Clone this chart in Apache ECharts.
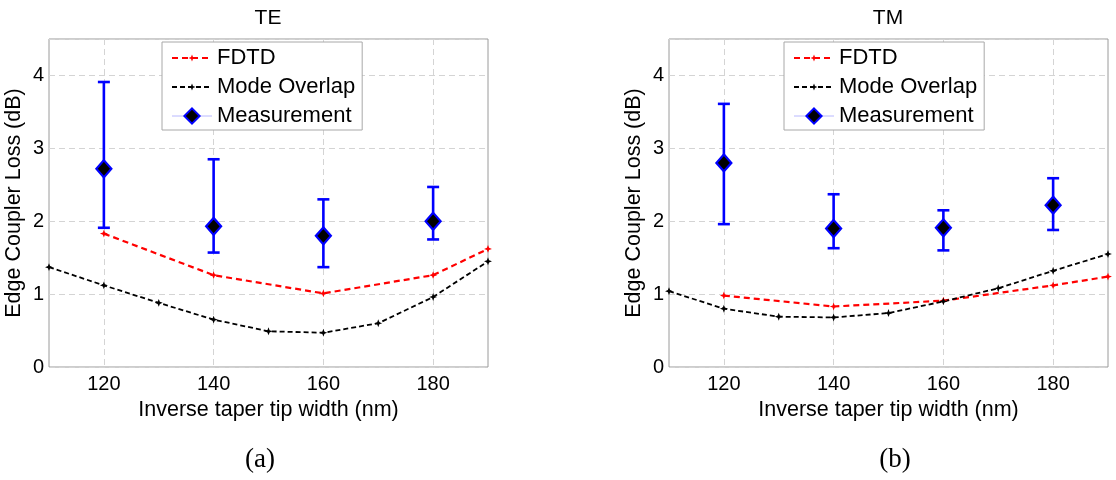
<!DOCTYPE html>
<html>
<head>
<meta charset="utf-8">
<script src="https://cdn.jsdelivr.net/npm/echarts@6/dist/echarts.min.js"></script>
<style>
html,body{margin:0;padding:0;background:#fff;}
#chart{width:1116px;height:480px;}
</style>
</head>
<body>
<div id="chart"></div>
<script>
// ---- data ----
var fdtdX = [120, 140, 160, 180, 190];
var teFdtd = [1.83, 1.26, 1.01, 1.26, 1.62];
var tmFdtd = [0.98, 0.83, 0.91, 1.12, 1.24];

var overlapX = [110, 120, 130, 140, 150, 160, 170, 180, 190];
var teOverlap = [1.37, 1.12, 0.88, 0.65, 0.49, 0.47, 0.60, 0.96, 1.45];
var tmOverlap = [1.04, 0.80, 0.69, 0.68, 0.74, 0.90, 1.08, 1.32, 1.55];

var measX = [120, 140, 160, 180];
var teMeas = [2.72, 1.93, 1.80, 2.00];
var teLow = [1.91, 1.57, 1.37, 1.75];
var teHigh = [3.91, 2.85, 2.30, 2.47];
var tmMeas = [2.80, 1.90, 1.91, 2.22];
var tmLow = [1.96, 1.63, 1.60, 1.88];
var tmHigh = [3.61, 2.37, 2.15, 2.59];

var panelTitles = ['TE', 'TM'];
var panelLetters = ['(a)', '(b)'];
var xName = 'Inverse taper tip width (nm)';
var yName = 'Edge Coupler Loss (dB)';
var legendNames = ['FDTD', 'Mode Overlap', 'Measurement'];

// ---- helpers ----
function zip(xs, ys) { return xs.map(function (x, i) { return [x, ys[i]]; }); }
function zip3(xs, a, b) { return xs.map(function (x, i) { return [x, a[i], b[i]]; }); }

var FONT = 'Liberation Sans, Arial, sans-serif';
var gridLeft = [49, 669];
// small asterisk-like star, padded with empty corner points so it stays small in the legend icon
var starPath = 'path://M-14,-14 L-14,-14 Z M14,14 L14,14 Z M0,-6.5 L1.8,-1.8 L6.5,0 L1.8,1.8 L0,6.5 L-1.8,1.8 L-6.5,0 L-1.8,-1.8 Z';

function xAxisFor(i) {
  return {
    type: 'value', gridIndex: i, min: 110, max: 190, interval: 10,
    name: xName, nameLocation: 'middle', nameGap: 31,
    nameTextStyle: { fontFamily: FONT, fontSize: 21.5, color: '#000' },
    axisLine: { show: false }, axisTick: { show: false },
    axisLabel: {
      fontFamily: FONT, fontSize: 20, color: '#000', margin: 7,
      formatter: function (v) { return v % 20 === 0 ? String(v) : ''; }
    },
    splitLine: { show: true, lineStyle: { color: ['rgba(0,0,0,0)', '#d4d4d4'], type: [6, 4], width: 1 } }
  };
}
function yAxisFor(i) {
  return {
    type: 'value', gridIndex: i, min: 0, max: 4.5, interval: 1,
    name: yName, nameLocation: 'middle', nameGap: 24,
    nameTextStyle: { fontFamily: FONT, fontSize: 21.5, color: '#000' },
    axisLine: { show: false }, axisTick: { show: false },
    axisLabel: {
      fontFamily: FONT, fontSize: 20, color: '#000', margin: 5,
      formatter: function (v) { return Number.isInteger(v) ? String(v) : ''; }
    },
    splitLine: { show: true, lineStyle: { color: '#d4d4d4', type: [6, 4], width: 1 } }
  };
}

function errorBarSeries(i, data) {
  return {
    type: 'custom', xAxisIndex: i, yAxisIndex: i, z: 3, silent: true,
    data: data,
    encode: { x: 0, y: [1, 2] },
    renderItem: function (params, api) {
      var x = api.value(0);
      var lo = api.coord([x, api.value(1)]);
      var hi = api.coord([x, api.value(2)]);
      var hw = 6;
      var st = { stroke: '#0000ff', lineWidth: 2.6 };
      return {
        type: 'group',
        children: [
          { type: 'line', shape: { x1: lo[0], y1: lo[1], x2: hi[0], y2: hi[1] }, style: st },
          { type: 'line', shape: { x1: lo[0] - hw, y1: lo[1], x2: lo[0] + hw, y2: lo[1] }, style: st },
          { type: 'line', shape: { x1: hi[0] - hw, y1: hi[1], x2: hi[0] + hw, y2: hi[1] }, style: st }
        ]
      };
    }
  };
}

function panelSeries(i, fdtd, overlap, meas, low, high) {
  return [
    {
      name: 'FDTD', type: 'line', xAxisIndex: i, yAxisIndex: i, z: 4,
      data: zip(fdtdX, fdtd), symbol: starPath, symbolSize: 17, showAllSymbol: true,
      lineStyle: { color: '#ff0000', width: 2.2, type: [6, 4] },
      itemStyle: { color: '#ff0000', borderWidth: 0 }, animation: false
    },
    {
      name: 'Mode Overlap', type: 'line', xAxisIndex: i, yAxisIndex: i, z: 4,
      data: zip(overlapX, overlap), symbol: starPath, symbolSize: 17, showAllSymbol: true,
      lineStyle: { color: '#000000', width: 1.8, type: [5, 3] },
      itemStyle: { color: '#000000', borderWidth: 0 }, animation: false
    },
    errorBarSeries(i, zip3(measX, low, high)),
    {
      name: 'Measurement', type: 'line', xAxisIndex: i, yAxisIndex: i, z: 5,
      data: zip(measX, meas), symbol: 'diamond', symbolSize: [15, 17],
      lineStyle: { width: 0, color: '#b8b8ff' },
      itemStyle: { color: '#000000', borderColor: '#0000ff', borderWidth: 2.2 },
      animation: false
    }
  ];
}

function legendFor(left) {
  return {
    orient: 'vertical', left: left, top: 42,
    padding: [5, 7, 3, 9], itemGap: 7, itemWidth: 40, itemHeight: 19,
    backgroundColor: '#ffffff', borderColor: '#a8a8a8', borderWidth: 1, borderRadius: 0,
    textStyle: { fontFamily: FONT, fontSize: 22, color: '#000' },
    data: [
      { name: legendNames[0] },
      { name: legendNames[1] },
      { name: legendNames[2], lineStyle: { width: 1, color: '#b8b8ff', opacity: 1, type: 'solid' } }
    ]
  };
}

var chart = echarts.init(document.getElementById('chart'));
var option = {
  backgroundColor: '#ffffff',
  animation: false,
  grid: [
    { left: gridLeft[0], top: 39, width: 439, height: 328, show: true, borderColor: '#9a9a9a', borderWidth: 1, backgroundColor: 'rgba(0,0,0,0)' },
    { left: gridLeft[1], top: 39, width: 439, height: 328, show: true, borderColor: '#9a9a9a', borderWidth: 1, backgroundColor: 'rgba(0,0,0,0)' }
  ],
  xAxis: [xAxisFor(0), xAxisFor(1)],
  yAxis: [yAxisFor(0), yAxisFor(1)],
  legend: [legendFor(162), legendFor(784)],
  series: [].concat(
    panelSeries(0, teFdtd, teOverlap, teMeas, teLow, teHigh),
    panelSeries(1, tmFdtd, tmOverlap, tmMeas, tmLow, tmHigh)
  ),
  graphic: [
    { type: 'text', x: 268, y: 18, style: { text: panelTitles[0], fontFamily: FONT, fontSize: 21, fill: '#000', textAlign: 'center', textVerticalAlign: 'middle' } },
    { type: 'text', x: 888, y: 18, style: { text: panelTitles[1], fontFamily: FONT, fontSize: 21, fill: '#000', textAlign: 'center', textVerticalAlign: 'middle' } },
    { type: 'text', x: 260, y: 460, style: { text: panelLetters[0], fontFamily: 'Liberation Serif, Times New Roman, serif', fontSize: 27, fill: '#000', textAlign: 'center', textVerticalAlign: 'middle' } },
    { type: 'text', x: 895, y: 460, style: { text: panelLetters[1], fontFamily: 'Liberation Serif, Times New Roman, serif', fontSize: 27, fill: '#000', textAlign: 'center', textVerticalAlign: 'middle' } }
  ]
};
chart.setOption(option);
</script>
</body>
</html>
